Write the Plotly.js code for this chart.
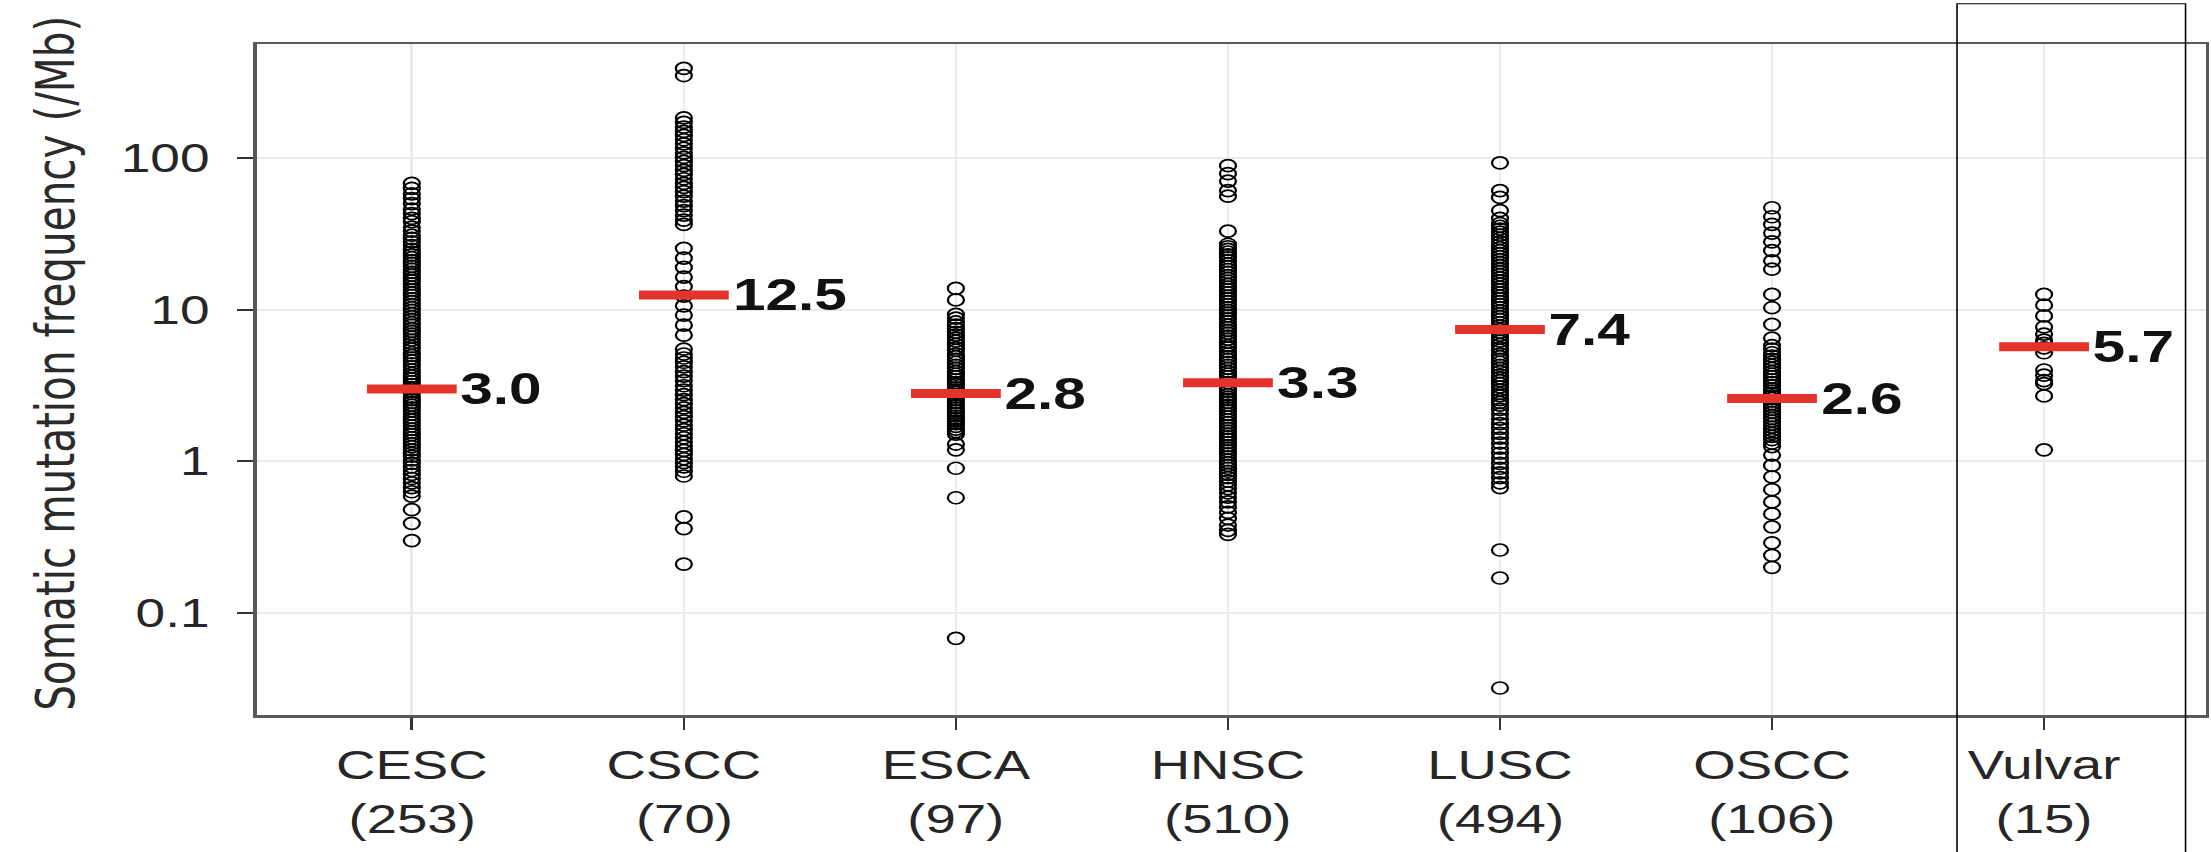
<!DOCTYPE html>
<html><head><meta charset="utf-8">
<script src="https://cdn.plot.ly/plotly-3.0.1.min.js"></script>
<style>
html,body{margin:0;padding:0;background:#fff;overflow:hidden;width:2211px;height:852px;}
#wrap{width:1662px;height:852px;transform:scaleX(1.33032);transform-origin:0 0;}
</style></head><body><div id="wrap"><div id="chart"></div></div>
<script>
const categories = ['CESC','CSCC','ESCA','HNSC','LUSC','OSCC','Vulvar'];
const sampleCounts = [253,70,97,510,494,106,15];
const medians = [3.0,12.5,2.8,3.3,7.4,2.6,5.7];

const cesc = [68,63,58,54,50,46,43,40,38,35,33,31,29.5,28,26.5,25,24,23,22,21,20.2,19.3,18.5,17.6,16.9,16.1,15.5,14.8,14.1,13.5,12.9,12.4,11.8,11.3,10.8,10.3,9.9,9.4,9.0,8.6,8.2,7.9,7.5,7.2,6.9,6.6,6.3,6.0,5.7,5.5,5.2,5.0,4.8,4.6,4.4,4.2,4.0,3.8,3.65,3.5,3.35,3.2,3.05,3.0,2.9,2.8,2.65,2.55,2.45,2.35,2.25,2.15,2.05,1.95,1.87,1.79,1.71,1.63,1.56,1.5,1.43,1.37,1.31,1.25,1.19,1.13,1.08,1.02,0.97,0.92,0.87,0.82,0.77,0.72,0.67,0.63,0.59,0.48,0.39,0.30];
const cscc = [390,350,184,172,160,150,141,132,124,116,108,101,95,89,83,78,73,68,64,60,56,52,48.5,45,42,39,36.5,25.4,21.9,19.0,16.4,14.2,12.3,10.6,9.2,7.9,6.8,5.5,5.1,4.8,4.5,4.2,3.9,3.65,3.4,3.15,2.95,2.75,2.55,2.4,2.25,2.1,1.97,1.85,1.73,1.62,1.52,1.43,1.34,1.26,1.18,1.11,1.04,0.98,0.92,0.86,0.80,0.43,0.36,0.21];
const esca = [13.8,11.6,9.3,8.8,8.3,7.9,7.5,7.1,6.8,6.5,6.2,5.9,5.6,5.4,5.1,4.9,4.7,4.5,4.3,4.1,3.9,3.75,3.6,3.45,3.3,3.2,3.05,2.95,2.85,2.75,2.65,2.55,2.45,2.35,2.25,2.15,2.07,1.99,1.91,1.84,1.77,1.7,1.63,1.57,1.51,1.3,1.19,0.9,0.575,0.068];
const hnsc = [89,79,70.5,61,56,33,27,26,25,24,23,22,21,20,19.2,18.4,17.6,16.8,16.1,15.4,14.7,14.1,13.5,12.9,12.3,11.8,11.3,10.8,10.3,9.9,9.5,9.1,8.7,8.3,7.9,7.6,7.3,7.0,6.7,6.4,6.1,5.8,5.6,5.3,5.1,4.9,4.7,4.5,4.3,4.1,3.9,3.75,3.6,3.45,3.3,3.15,3.0,2.9,2.75,2.65,2.55,2.45,2.35,2.25,2.15,2.05,1.96,1.88,1.8,1.72,1.65,1.58,1.51,1.45,1.39,1.33,1.27,1.22,1.17,1.12,1.07,1.02,0.98,0.94,0.9,0.86,0.82,0.78,0.74,0.7,0.66,0.62,0.58,0.54,0.5,0.46,0.42,0.38,0.35,0.33];
const lusc = [93,61,55,45,40,37,35.5,34,32.5,31,29.5,28,26.8,25.6,24.5,23.4,22.4,21.4,20.4,19.5,18.6,17.8,17,16.2,15.5,14.8,14.1,13.5,12.9,12.3,11.8,11.3,10.8,10.3,9.8,9.4,9.0,8.6,8.2,7.8,7.4,7.1,6.8,6.5,6.2,5.9,5.6,5.4,5.1,4.9,4.7,4.5,4.3,4.1,3.9,3.7,3.55,3.4,3.25,3.1,2.95,2.8,2.7,2.55,2.45,2.35,2.2,2.05,1.9,1.77,1.65,1.53,1.42,1.32,1.22,1.13,1.05,0.97,0.9,0.84,0.78,0.72,0.67,0.26,0.17,0.032];
const oscc = [47,41,36.5,32,28,24.5,21,18.5,12.6,10.3,8.0,6.5,5.8,5.5,5.2,4.95,4.7,4.5,4.3,4.1,3.9,3.75,3.6,3.45,3.3,3.15,3.0,2.9,2.8,2.7,2.6,2.5,2.4,2.3,2.2,2.1,2.0,1.92,1.84,1.76,1.68,1.6,1.53,1.46,1.39,1.32,1.25,1.1,0.94,0.79,0.65,0.54,0.45,0.37,0.29,0.24,0.2];
const vulvar = [12.6,10.7,9.1,7.7,6.9,6.3,6.0,5.6,5.2,4.0,3.7,3.4,3.25,2.7,1.19];

const seriesList = [cesc,cscc,esca,hnsc,lusc,oscc,vulvar];
const yTickVals = [0.1,1,10,100];
const yTickText = ['0.1','1','10','100'];
const yTitle = 'Somatic mutation frequency (/Mb)';

const FONT = 'Liberation Sans, Arial, Helvetica, sans-serif';
const halfW = 0.165;

const px = [], py = [];
seriesList.forEach((arr,i)=>{ arr.forEach(v=>{ px.push(i); py.push(v); }); });

const mx = [], my = [];
medians.forEach((m,i)=>{ mx.push(i-halfW, i+halfW, null); my.push(m, m, null); });

const points = {
  type:'scatter', mode:'markers', x:px, y:py, hoverinfo:'skip',
  marker:{symbol:'circle-open', size:12, color:'#000', line:{width:1.7, color:'#000'}},
  showlegend:false, cliponaxis:false
};
const medianLines = {
  type:'scatter', mode:'lines', x:mx, y:my, hoverinfo:'skip',
  line:{color:'#e3342b', width:9}, showlegend:false
};

const annotations = [];
medians.forEach((m,i)=>{
  annotations.push({x:i+halfW, y:Math.log10(m), xref:'x', yref:'y', text:m.toFixed(1),
    showarrow:false, xanchor:'left', yanchor:'middle', xshift:1,
    font:{family:FONT, size:44, color:'#111', weight:'bold'}});
});
sampleCounts.forEach((n,i)=>{
  annotations.push({x:i, y:0, xref:'x', yref:'paper', text:'('+n+')', showarrow:false,
    xanchor:'center', yanchor:'middle', yshift:-104,
    font:{family:FONT, size:41, color:'#262626'}});
});
annotations.push({x:-0.1035, y:0, xref:'paper', yref:'paper', text:yTitle, textangle:-90,
  showarrow:false, xanchor:'center', yanchor:'bottom', yshift:2,
  font:{family:'DejaVu Sans, Liberation Sans, sans-serif', size:40.5, color:'#2b2b2b'}});

const layout = {
  width:1662, height:852,
  margin:{l:193, r:4, t:44, b:137},
  paper_bgcolor:'#fff', plot_bgcolor:'#fff',
  showlegend:false, hovermode:false,
  xaxis:{
    range:[-0.570,6.594], tickmode:'array', tickvals:categories.map((c,i)=>i), ticktext:categories,
    showgrid:true, gridcolor:'#ebebeb', gridwidth:2, zeroline:false,
    showline:true, mirror:true, linecolor:'#595959', linewidth:2.5,
    ticks:'outside', ticklen:12, tickwidth:2, tickcolor:'#333',
    ticklabelstandoff:0,
    tickfont:{family:FONT, size:41, color:'#262626'}
  },
  yaxis:{
    type:'log', range:[-1.673,2.752], tickmode:'array', tickvals:yTickVals, ticktext:yTickText,
    showgrid:true, gridcolor:'#ebebeb', gridwidth:2, zeroline:false,
    showline:true, mirror:true, linecolor:'#595959', linewidth:2.5,
    ticks:'outside', ticklen:12, tickwidth:2, tickcolor:'#333',
    ticklabelstandoff:13,
    tickfont:{family:FONT, size:40, color:'#262626'}
  },
  shapes:[{type:'rect', xref:'x', yref:'paper', x0:5.68, x1:6.52, y0:-0.25, y1:1.06,
    line:{color:'#000', width:1.2}, fillcolor:'rgba(0,0,0,0)', layer:'above'}],
  annotations:annotations
};

Plotly.newPlot('chart',[points, medianLines],layout,{staticPlot:true, displayModeBar:false});
</script></body></html>
